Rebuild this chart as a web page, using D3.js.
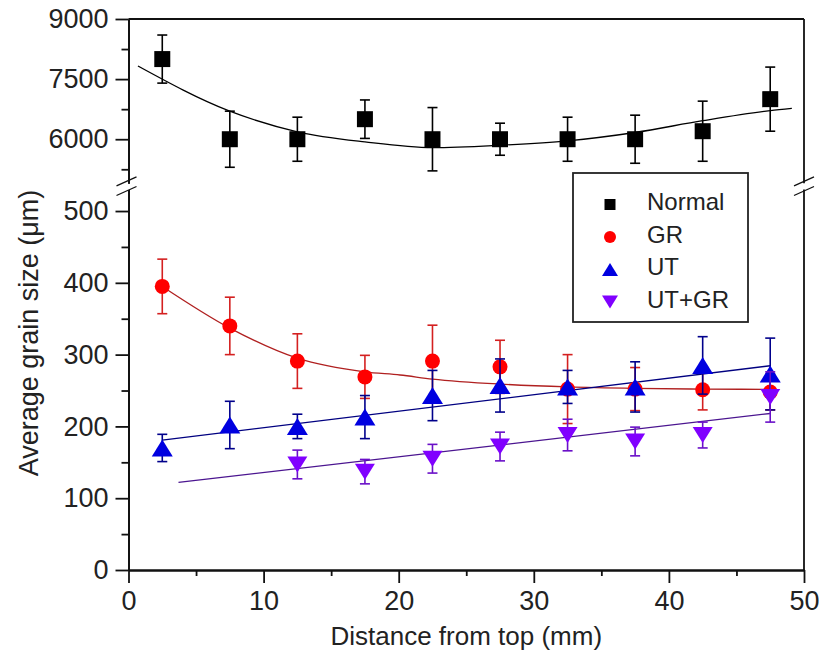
<!DOCTYPE html>
<html>
<head>
<meta charset="utf-8">
<script src="https://cdn.jsdelivr.net/npm/d3@7"></script>
<style>
  body { margin: 0; background: #fff; }
  text { font-family: "Liberation Sans", Arial, sans-serif; fill: #222; }
</style>
</head>
<body>
<script>
const w = 819, h = 653;

// distance from top (mm)
const xVals = [2.5, 7.5, 12.5, 17.5, 22.5, 27.5, 32.5, 37.5, 42.5, 47.5];

const normalVals = [8000, 6000, 6000, 6500, 6000, 6000, 6000, 6000, 6200, 7000];
const normalErr  = [600, 700, 550, 480, 790, 400, 550, 600, 750, 800];

const grVals = [395, 340, 291, 269, 291, 283, 252, 252, 251, 248];
const grErr  = [38, 40, 38, 30, 50, 37, 48, 30, 28, 25];

const utVals = [170, 202, 200, 213, 243, 257, 255, 255, 285, 273];
const utErr  = [19, 33, 17, 30, 35, 37, 23, 35, 40, 50];

const utgrX    = [12.5, 17.5, 22.5, 27.5, 32.5, 37.5, 42.5, 47.5];
const utgrVals = [147, 137, 155, 172, 188, 179, 188, 241];
const utgrErr  = [20, 17, 20, 20, 22, 20, 18, 35];

// fitted curves
const normalFitX = [0.7, 7.4, 12.5, 17.5, 22.5, 27.5, 32.5, 37.5, 42.5, 47.5, 49.1];
const normalFitY = [7826, 6713, 6186, 5934, 5791, 5851, 5960, 6168, 6462, 6713, 6771];
const grFitX = [2.5, 7.5, 12.5, 17.5, 20.1, 22.5, 27.5, 32.5, 37.5, 42.5, 47.5];
const grFitY = [395, 337, 295, 276, 271.6, 266, 259, 255, 253, 252, 251.7];
const utFitX = [2.5, 47.5];
const utFitY = [181, 284.5];
const utgrFitX = [3.7, 47.5];
const utgrFitY = [122, 218];

const topTicks = [6000, 7500, 9000], topMinor = [5250, 6750, 8250];
const botTicks = [0, 100, 200, 300, 400, 500], botMinor = [50, 150, 250, 350, 450];
const xTicks = [0, 10, 20, 30, 40, 50], xMinor = [5, 15, 25, 35, 45];

const legendNames = ['Normal', 'GR', 'UT', 'UT+GR'];

const x = d3.scaleLinear([0, 50], [128.5, 804]);
const yTop = d3.scaleLinear([4900, 9000], [183.3, 19]);
const yBot = d3.scaleLinear([0, 530], [570, 189.5]);

const svg = d3.select('body').append('svg')
    .attr('width', w)
    .attr('height', h);

const styleAxis = g => {
  g.attr('font-size', 27).attr('font-family', '"Liberation Sans", Arial, sans-serif');
  g.selectAll('path, line').attr('stroke', '#111').attr('stroke-width', 1.8);
  g.selectAll('text').attr('fill', '#222');
};

// left axis, two panels
svg.append('g').attr('transform', `translate(${x(0)},0)`)
    .call(d3.axisLeft(yTop).tickValues(topMinor).tickSize(7).tickSizeOuter(0).tickFormat(''))
    .call(styleAxis);
svg.append('g').attr('transform', `translate(${x(0)},0)`)
    .call(d3.axisLeft(yTop).tickValues(topTicks).tickSize(13).tickPadding(7).tickSizeOuter(0).tickFormat(d3.format('d')))
    .call(styleAxis);
svg.append('g').attr('transform', `translate(${x(0)},0)`)
    .call(d3.axisLeft(yBot).tickValues(botMinor).tickSize(7).tickSizeOuter(0).tickFormat(''))
    .call(styleAxis);
svg.append('g').attr('transform', `translate(${x(0)},0)`)
    .call(d3.axisLeft(yBot).tickValues(botTicks).tickSize(13).tickPadding(7).tickSizeOuter(0).tickFormat(d3.format('d')))
    .call(styleAxis);

// bottom axis
svg.append('g').attr('transform', `translate(0,${yBot(0)})`)
    .call(d3.axisBottom(x).tickValues(xMinor).tickSize(6).tickSizeOuter(0).tickFormat(''))
    .call(styleAxis);
svg.append('g').attr('transform', `translate(0,${yBot(0)})`)
    .call(d3.axisBottom(x).tickValues(xTicks).tickSize(13).tickPadding(8).tickSizeOuter(0).tickFormat(d3.format('d')))
    .call(styleAxis);

// frame: top and right
const frame = svg.append('g').attr('stroke', '#111').attr('stroke-width', 1.8);
frame.append('line').attr('x1', x(0)).attr('x2', x(50)).attr('y1', yTop(9000)).attr('y2', yTop(9000));
frame.append('line').attr('x1', x(50)).attr('x2', x(50)).attr('y1', yTop(9000)).attr('y2', yTop(4900));
frame.append('line').attr('x1', x(50)).attr('x2', x(50)).attr('y1', yBot(530)).attr('y2', yBot(0));

// break marks
const breaks = svg.append('g').attr('stroke', '#111').attr('stroke-width', 1.3);
[x(0) - 2, x(50)].forEach(cx => {
  [yTop(4900) - 2, yBot(530) + 1.5].forEach(cy => {
    breaks.append('line')
        .attr('x1', cx - 10).attr('y1', cy + 4.5)
        .attr('x2', cx + 10).attr('y2', cy - 4.5);
  });
});

// fit lines
const drawFit = (xs, ys, yScale, color, curve) => {
  svg.append('path')
      .datum(xs.map((d, i) => [d, ys[i]]))
      .attr('fill', 'none')
      .attr('stroke', color)
      .attr('stroke-width', 1.3)
      .attr('d', d3.line().x(d => x(d[0])).y(d => yScale(d[1])).curve(curve));
};
drawFit(normalFitX, normalFitY, yTop, '#000', d3.curveMonotoneX);
drawFit(grFitX, grFitY, yBot, '#b02020', d3.curveMonotoneX);
drawFit(utFitX, utFitY, yBot, '#000080', d3.curveLinear);
drawFit(utgrFitX, utgrFitY, yBot, '#4b1590', d3.curveLinear);

// marker shapes
const square = s => `M${-s/2},${-s/2}h${s}v${s}h${-s}Z`;
const triUp = (wd, ht) => `M0,${-ht/2}L${wd/2},${ht/2}L${-wd/2},${ht/2}Z`;
const triDown = (wd, ht) => `M0,${ht/2}L${wd/2},${-ht/2}L${-wd/2},${-ht/2}Z`;

const drawSeries = (xs, vals, errs, yScale, barColor, fill, shape) => {
  const g = svg.append('g');
  const pts = xs.map((d, i) => ({ x: d, v: vals[i], e: errs[i] }));
  const bars = g.selectAll('.bar').data(pts).join('g')
      .attr('stroke', barColor).attr('stroke-width', 1.6);
  bars.append('line')
      .attr('x1', d => x(d.x)).attr('x2', d => x(d.x))
      .attr('y1', d => yScale(d.v - d.e)).attr('y2', d => yScale(d.v + d.e));
  bars.append('line')
      .attr('x1', d => x(d.x) - 5).attr('x2', d => x(d.x) + 5)
      .attr('y1', d => yScale(d.v + d.e)).attr('y2', d => yScale(d.v + d.e));
  bars.append('line')
      .attr('x1', d => x(d.x) - 5).attr('x2', d => x(d.x) + 5)
      .attr('y1', d => yScale(d.v - d.e)).attr('y2', d => yScale(d.v - d.e));
  g.selectAll('.mark').data(pts).join('path')
      .attr('transform', d => `translate(${x(d.x)},${yScale(d.v)})`)
      .attr('fill', fill)
      .attr('d', shape);
};

drawSeries(xVals, normalVals, normalErr, yTop, '#000', '#000', square(16));
drawSeries(xVals, grVals, grErr, yBot, '#d42020', '#ff0000', d3.symbol(d3.symbolCircle, Math.PI * 7.5 * 7.5)());
drawSeries(xVals, utVals, utErr, yBot, '#00008b', '#0000e0', triUp(21, 17));
drawSeries(utgrX, utgrVals, utgrErr, yBot, '#6a10c8', '#8000ff', triDown(20, 16));

// legend
const legend = svg.append('g');
legend.append('rect')
    .attr('x', 573).attr('y', 173)
    .attr('width', 175).attr('height', 149)
    .attr('fill', '#fff').attr('stroke', '#222').attr('stroke-width', 1.8);
const legendShapes = [
  { d: square(11), fill: '#000' },
  { d: d3.symbol(d3.symbolCircle, Math.PI * 36)(), fill: '#ff0000' },
  { d: triUp(16, 13), fill: '#0000e0' },
  { d: triDown(16, 13), fill: '#8000ff' }
];
legendNames.forEach((name, i) => {
  const base = 210 + i * 32.5;
  legend.append('path')
      .attr('transform', `translate(610,${base - 5.5})`)
      .attr('fill', legendShapes[i].fill)
      .attr('d', legendShapes[i].d);
  legend.append('text')
      .attr('x', 647).attr('y', base)
      .attr('font-size', 24)
      .text(name);
});

// axis titles
svg.append('text')
    .attr('x', (x(0) + x(50)) / 2).attr('y', 645)
    .attr('text-anchor', 'middle')
    .attr('font-size', 26)
    .text('Distance from top (mm)');
svg.append('text')
    .attr('transform', 'translate(38,333) rotate(-90)')
    .attr('text-anchor', 'middle')
    .attr('font-size', 27)
    .text('Average grain size (μm)');
</script>
</body>
</html>
